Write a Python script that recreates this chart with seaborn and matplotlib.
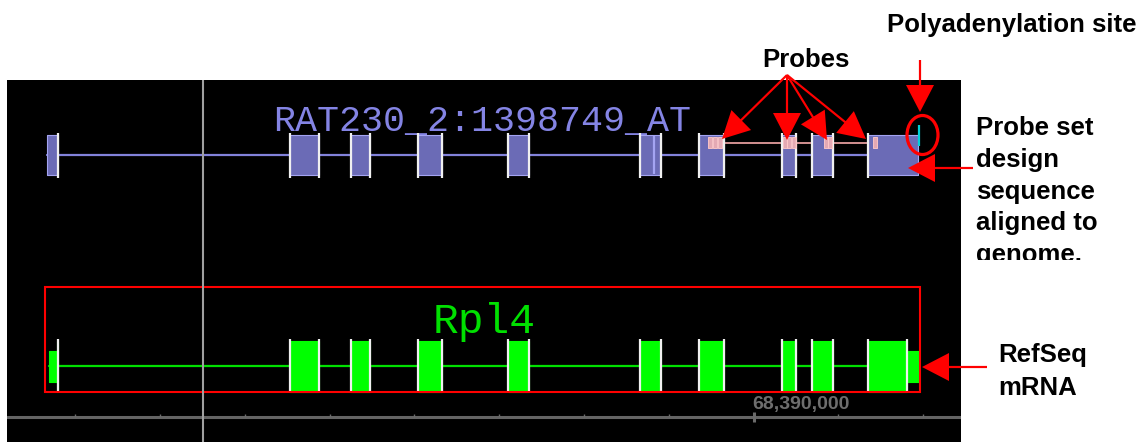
import numpy as np
import pandas as pd
import matplotlib
matplotlib.use("Agg")
import matplotlib.pyplot as plt
import seaborn as sns
from matplotlib.patches import Ellipse, Rectangle

# ---------------- data (genomic coordinates, bp) ----------------
view_start, view_end = 68385598, 68391223
cursor_pos = 68386754
ruler_major = [68390000]
ruler_labels = ["68,390,000"]
ruler_step = 500

probeset_name = "RAT230_2:1398749_AT"
probeset_exon_starts = [68385834, 68387267, 68387627, 68388022, 68388553,
                        68389331, 68389679, 68390168, 68390345, 68390675]
probeset_exon_ends = [68385899, 68387438, 68387739, 68388163, 68388676,
                      68389455, 68389826, 68390251, 68390469, 68390970]
probeset_inner_edges = [68389413]
probe_starts = [68389732, 68389758, 68389791, 68390174, 68390198,
                68390224, 68390416, 68390440, 68390705]
probe_length = 25
polya_site = 68390973

refseq_name = "Rpl4"
refseq_exon_starts = [68385846, 68387267, 68387627, 68388022, 68388553,
                      68389331, 68389679, 68390168, 68390345, 68390675]
refseq_exon_ends = [68385899, 68387438, 68387739, 68388163, 68388676,
                    68389455, 68389826, 68390251, 68390469, 68390976]
refseq_cds_start = 68385894
refseq_cds_end = 68390905

# ---------------- style ----------------
sns.set_theme(style="white")
plt.rcParams["font.family"] = ["Liberation Sans", "DejaVu Sans"]

W, H = 1147, 442
fig = plt.figure(figsize=(W / 100, H / 100), dpi=100)
fig.patch.set_facecolor("white")

# black browser panel (x = genomic position, y = pixel row)
px_l, px_r, px_t = 7, 961, 80
ax = fig.add_axes([px_l / W, 0, (px_r - px_l) / W, (H - px_t) / H])
ax.set_facecolor("black")
for s in ax.spines.values():
    s.set_visible(False)

PURPLE_FILL = "#6b6bb6"
PURPLE_EDGE = "#a4a4f2"
PURPLE_LINE = "#8282da"
PURPLE_TEXT = "#8484e4"
GREEN = "#00ff00"


def draw_transcript(starts, ends, yc, thick_h, thin_h, fill, edge, line_color,
                    cds=None, splice_h=None, label=None, label_y=None,
                    label_size=26, label_color=None):
    df = pd.DataFrame({"x": [starts[0], ends[-1]], "y": [yc, yc]})
    sns.lineplot(data=df, x="x", y="y", ax=ax, color=line_color, lw=1.6,
                 legend=False, zorder=2)
    if label is not None:
        center = (starts[0] + ends[-1]) / 2
        ax.text(center, label_y, label, ha="center", va="baseline",
                family="Liberation Mono", fontsize=label_size,
                color=label_color, zorder=1)
    cs, ce = cds if cds is not None else (starts[0], ends[-1])
    for s, e in zip(starts, ends):
        ts, te = max(s, cs), min(e, ce)
        thin_parts = []
        if s < cs:
            thin_parts.append((s, min(e, cs) - s))
        if e > ce:
            thin_parts.append((max(s, ce), e - max(s, ce)))
        if thin_parts:
            ax.broken_barh(thin_parts, (yc - thin_h / 2, thin_h),
                           facecolors=fill, edgecolors=edge, lw=0.8, zorder=3)
        if te > ts:
            ax.broken_barh([(ts, te - ts)], (yc - thick_h / 2, thick_h),
                           facecolors=fill, edgecolors=edge, lw=0.8, zorder=3)
    sh = splice_h if splice_h is not None else thick_h + 4
    splice = list(ends[:-1]) + list(starts[1:])
    ax.vlines(splice, yc - sh / 2, yc + sh / 2, color="#f0f0f0", lw=1.6, zorder=5)
    return cs, ce


# probe set track
yc_p = 155
draw_transcript(probeset_exon_starts, probeset_exon_ends, yc_p, 40, 40,
                PURPLE_FILL, PURPLE_EDGE, PURPLE_LINE, splice_h=45,
                label=probeset_name, label_y=131, label_size=26.4,
                label_color=PURPLE_TEXT)
ax.vlines(probeset_inner_edges, yc_p - 19, yc_p + 19, color=PURPLE_EDGE, lw=1.6, zorder=4)
# probes
ax.plot([probe_starts[0], probe_starts[-1] + probe_length], [143, 143],
        color="#e49c9c", lw=1.3, zorder=2.5)
ax.broken_barh([(p, probe_length) for p in probe_starts], (136.5, 11),
               facecolors="#f2b0b4", edgecolors="#ffc8c8", lw=0.7, alpha=0.9, zorder=6)
# polyadenylation site
ax.vlines([polya_site], 125, 146, color="#00d0d8", lw=1.6, zorder=6)

# RefSeq track
yc_r = 366
draw_transcript(refseq_exon_starts, refseq_exon_ends, yc_r, 51, 31,
                GREEN, GREEN, "#00e000", cds=(refseq_cds_start, refseq_cds_end),
                splice_h=54, label=refseq_name, label_y=333, label_size=31,
                label_color="#00e000")
ax.vlines([refseq_cds_end], yc_r - 27, yc_r + 27, color="#f0f0f0", lw=1.6, zorder=5)

# red box around RefSeq
pad_l = (refseq_exon_ends[-1] - refseq_exon_starts[0]) * 0.0046
ax.add_patch(Rectangle((refseq_exon_starts[0] - pad_l, 287),
                       refseq_exon_ends[-1] + 6 - (refseq_exon_starts[0] - pad_l), 105,
                       fill=False, ec="#ff0000", lw=1.5, zorder=7))

# ruler
ax.axhline(417, color="#646464", lw=2.2, zorder=2)
ticks = np.arange(np.ceil(view_start / ruler_step) * ruler_step, view_end, ruler_step)
ax.vlines(ticks, 413.5, 417, color="#6a6a6a", lw=1.0, zorder=2)
ax.vlines(ruler_major, 412, 422, color="#6a6a6a", lw=2.2, zorder=2)
for pos, lab in zip(ruler_major, ruler_labels):
    ax.text(pos - 8, 409, lab, ha="left", va="baseline", fontsize=14,
            fontweight="bold", color="#6e6e6e", zorder=2)

# cursor line
ax.vlines([cursor_pos], px_t, H, color="#a0a0a0", lw=1.5, zorder=8)

ax.set_xlim(view_start, view_end)
ax.set_ylim(H, px_t)
ax.set_xticks([])
ax.set_yticks([])
ax.set_xlabel("")
ax.set_ylabel("")

# ---------------- annotation overlay (pixel coordinates) ----------------
ov = fig.add_axes([0, 0, 1, 1], zorder=10)
ov.set_xlim(0, W)
ov.set_ylim(H, 0)
ov.set_axis_off()
ov.patch.set_alpha(0)

def arrow(x0, y0, x1, y1):
    ov.arrow(x0, y0, x1 - x0, y1 - y0, width=2.2, head_width=28, head_length=27,
             length_includes_head=True, fc="#ff0000", ec="#ff0000", lw=0)

label_font = dict(fontweight="bold", fontsize=18.5, color="black")
ov.text(887, 32, "Polyadenylation site", ha="left", va="baseline", **label_font)
ov.text(806, 67, "Probes", ha="center", va="baseline", **label_font)
clip_rect = Rectangle((960, 0), 200, 260, transform=ov.transData)
for i, line in enumerate(["Probe set", "design", "sequence", "aligned to", "genome."]):
    t = ov.text(976, 135 + i * 31.8, line, ha="left", va="baseline", **label_font)
    t.set_clip_on(True)
    t.set_clip_path(clip_rect)
for i, line in enumerate(["RefSeq", "mRNA"]):
    ov.text(998, 362 + i * 33, line, ha="left", va="baseline", **label_font)

for tx, ty in [(722, 139), (787, 140), (827, 140), (866, 139)]:
    arrow(787, 75, tx, ty)
arrow(920, 60, 920, 112)
arrow(973, 168, 908, 168)
arrow(987, 367, 922, 367)
ov.add_patch(Ellipse((922.5, 135), 31, 39, fill=False, ec="#ff0000", lw=2.3))

fig.savefig("out.png", dpi=100, facecolor="white")
